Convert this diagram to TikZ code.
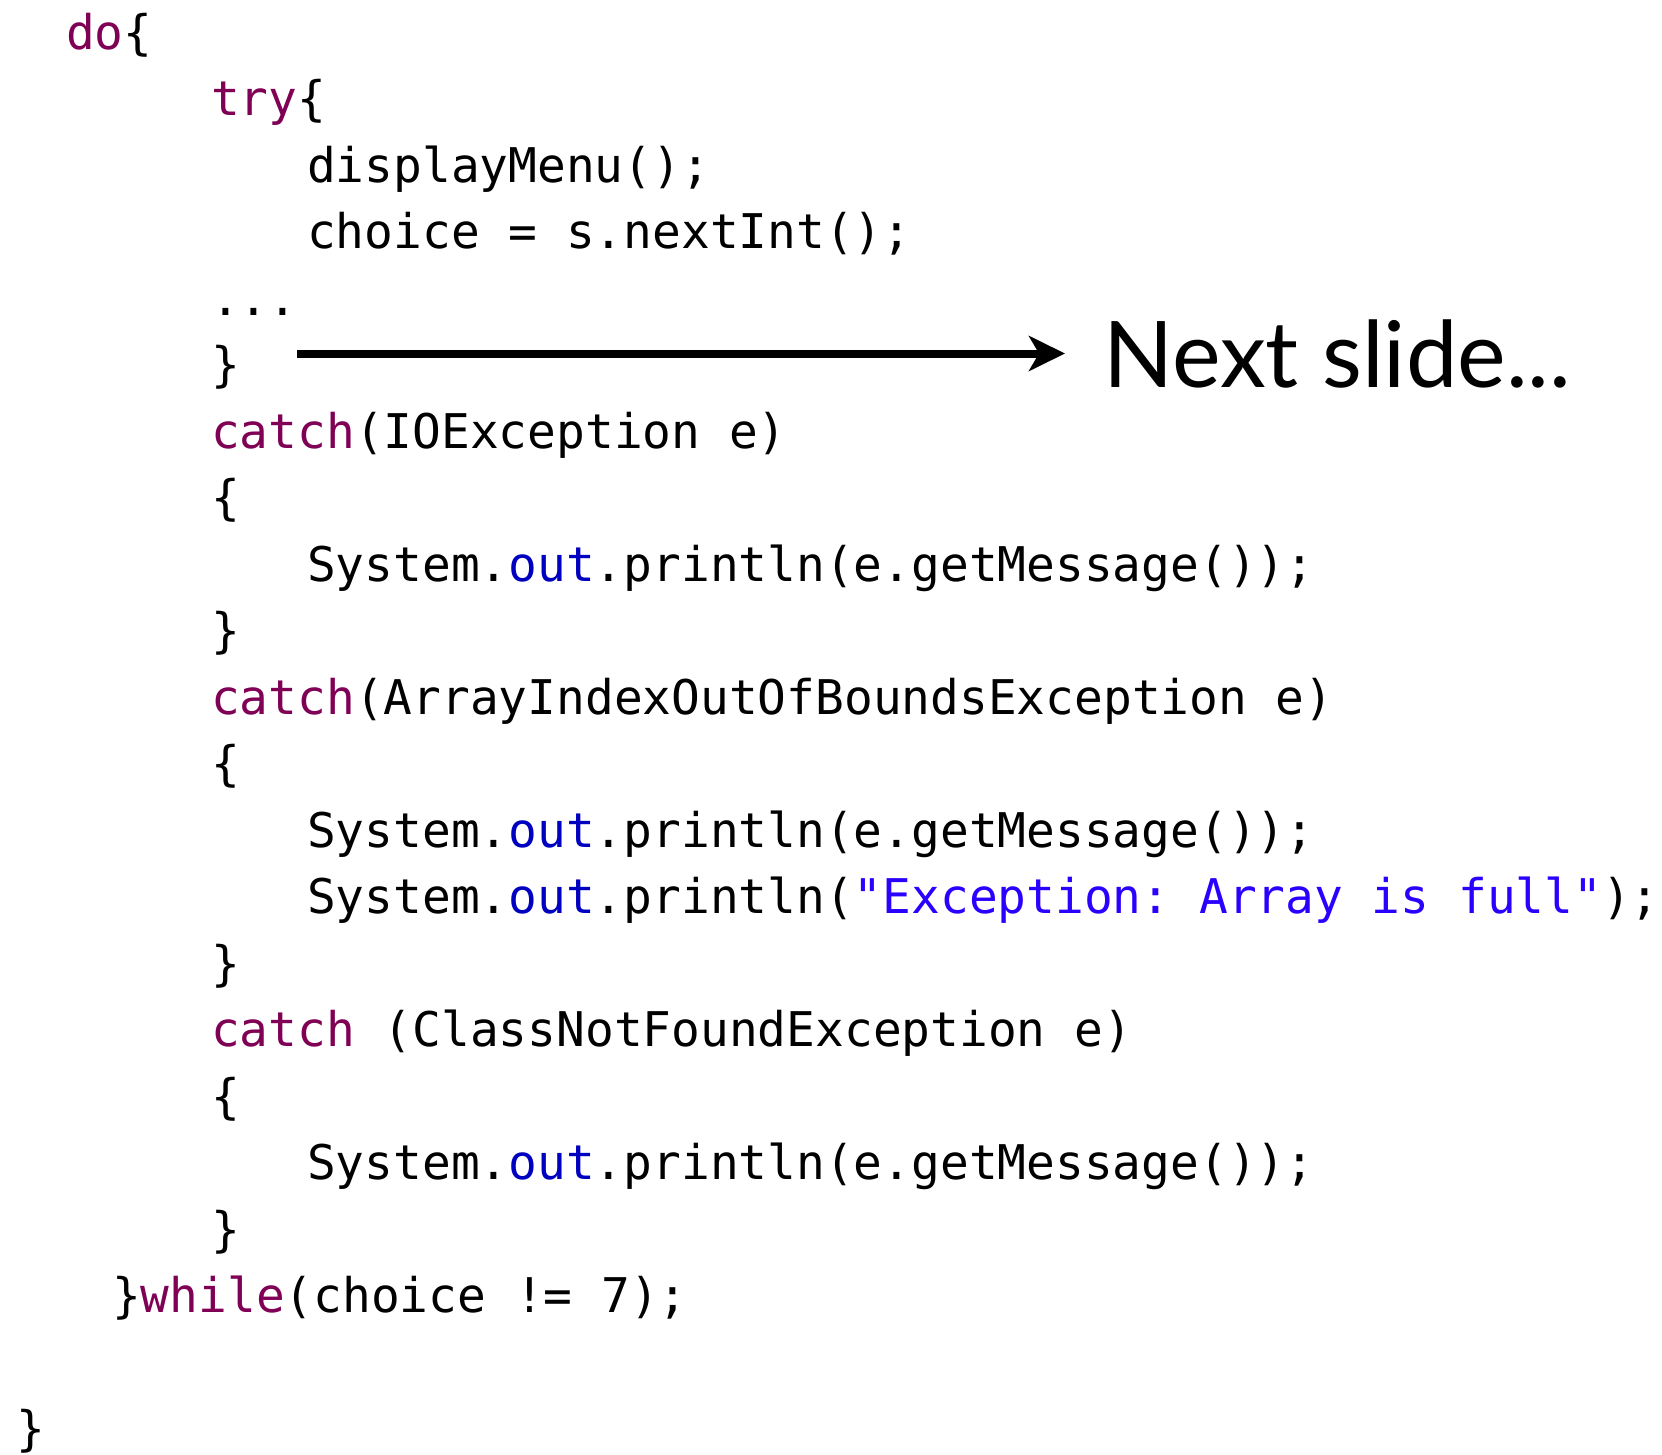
\documentclass[tikz,border=0pt]{standalone}
\usepackage{fontspec}
\setmonofont{DejaVu Sans Mono}
\newfontfamily\slidefont{Lato}
\usetikzlibrary{arrows.meta}
\definecolor{kwcol}{HTML}{7F0055}
\definecolor{fldcol}{HTML}{0000C0}
\definecolor{strcol}{HTML}{2A00FF}
\newcommand\kwd[1]{\textcolor{kwcol}{#1}}
\newcommand\fld[1]{\textcolor{fldcol}{#1}}
\newcommand\strg[1]{\textcolor{strcol}{#1}}
\begin{document}
\begin{tikzpicture}[x=1pt,y=-1pt,
  code/.style={anchor=base west,inner sep=0pt,font=\ttfamily\fontsize{47.8}{50}\selectfont},
  bigarrow/.style={line width=8pt,-{Stealth[length=36pt,width=35pt,inset=10pt]}}]
\useasboundingbox (0,0) rectangle (1662,1455);
\def\ya{49.3}\def\dy{66.5}
\def\ca{211}\def\cb{307}
\node[code] (l0)  at (66, {\ya+0*\dy}) {\kwd{do}\{};
\node[code] (l1)  at (\ca,{\ya+1*\dy}) {\kwd{try}\{};
\node[code] (l2)  at (\cb,{\ya+2*\dy}) {displayMenu();};
\node[code] (l3)  at (\cb,{\ya+3*\dy}) {choice = s.nextInt();};
\node[code] (l4)  at (\ca,{\ya+4*\dy}) {...};
\node[code] (l5)  at (\ca,{\ya+5*\dy}) {\}};
\node[code] (l6)  at (\ca,{\ya+6*\dy}) {\kwd{catch}(IOException e)};
\node[code] (l7)  at (\ca,{\ya+7*\dy}) {\{};
\node[code] (l8)  at (\cb,{\ya+8*\dy}) {System.\fld{out}.println(e.getMessage());};
\node[code] (l9)  at (\ca,{\ya+9*\dy}) {\}};
\node[code] (l10) at (\ca,{\ya+10*\dy}) {\kwd{catch}(ArrayIndexOutOfBoundsException e)};
\node[code] (l11) at (\ca,{\ya+11*\dy}) {\{};
\node[code] (l12) at (\cb,{\ya+12*\dy}) {System.\fld{out}.println(e.getMessage());};
\node[code] (l13) at (\cb,{\ya+13*\dy}) {System.\fld{out}.println(\strg{"Exception: Array is full"});};
\node[code] (l14) at (\ca,{\ya+14*\dy}) {\}};
\node[code] (l15) at (\ca,{\ya+15*\dy}) {\kwd{catch} (ClassNotFoundException e)};
\node[code] (l16) at (\ca,{\ya+16*\dy}) {\{};
\node[code] (l17) at (\cb,{\ya+17*\dy}) {System.\fld{out}.println(e.getMessage());};
\node[code] (l18) at (\ca,{\ya+18*\dy}) {\}};
\node[code] (l19) at (112,{\ya+19*\dy}) {\}\kwd{while}(choice != 7);};
\node[code] (l21) at (16,{\ya+21*\dy}) {\}};
\node[anchor=base west,inner sep=0pt,font=\slidefont\fontsize{92}{96}\selectfont] (next) at (1103,387.7) {Next slide...};
\coordinate (astart) at (297,353.5);
\coordinate (aend) at (1065,353.5);
\draw[bigarrow] (astart) -- (aend);
\end{tikzpicture}
\end{document}
